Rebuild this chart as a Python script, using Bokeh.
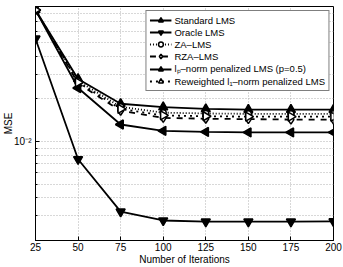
import math
from bokeh.plotting import figure
from bokeh.models import Range1d, FixedTicker, Legend
from bokeh.embed import file_html
from bokeh.resources import INLINE

iterations = [25, 50, 75, 100, 125, 150, 175, 200]
standard_lms = [0.085, 0.0277, 0.0185, 0.0175, 0.0170, 0.0168, 0.0168, 0.0168]
oracle_lms = [0.0533, 0.0075, 0.0032, 0.00277, 0.00272, 0.00272, 0.00272, 0.00273]
za_lms = [0.085, 0.0268, 0.0176, 0.0160, 0.0158, 0.0157, 0.0157, 0.0157]
rza_lms = [0.085, 0.0258, 0.0165, 0.0147, 0.0145, 0.0144, 0.0143, 0.0143]
lp_lms = [0.085, 0.0239, 0.0132, 0.0119, 0.0117, 0.0116, 0.0116, 0.0116]
rw_l1_lms = [0.085, 0.0262, 0.0170, 0.0153, 0.0151, 0.0150, 0.0150, 0.0150]

labels = ["Standard LMS", "Oracle LMS", "ZA–LMS", "RZA–LMS",
          "lₚ–norm penalized LMS (p=0.5)", "Reweighted l₁–norm penalized LMS"]

y_major = [0.01]
y_minor = [0.002, 0.003, 0.004, 0.005, 0.006, 0.007, 0.008, 0.009,
           0.02, 0.03, 0.04, 0.05, 0.06, 0.07, 0.08, 0.09]

FONT = "Liberation Sans"

p = figure(width=343, height=267, y_axis_type="log",
           x_range=Range1d(25, 200), y_range=Range1d(0.002, 0.09),
           output_backend="svg", toolbar_location=None,
           min_border_top=6, min_border_right=10, min_border_left=34,
           min_border_bottom=0)

p.outline_line_color = "black"
p.outline_line_width = 1
p.background_fill_color = "white"
p.border_fill_color = "white"

p.xaxis.ticker = FixedTicker(ticks=iterations)
p.yaxis.ticker = FixedTicker(ticks=y_major, minor_ticks=y_minor)
p.yaxis.major_label_overrides = {0.01: "10⁻²"}

for ax in (p.xaxis[0], p.yaxis[0]):
    ax.axis_line_color = "black"
    ax.major_tick_in = 4
    ax.major_tick_out = 0
    ax.minor_tick_in = 2
    ax.minor_tick_out = 0
    ax.major_tick_line_color = "black"
    ax.minor_tick_line_color = "black"
    ax.major_label_text_font = FONT
    ax.major_label_text_font_size = "10px"
    ax.major_label_text_color = "black"
    ax.axis_label_text_font = FONT
    ax.axis_label_text_font_size = "10px"
    ax.axis_label_text_font_style = "normal"
    ax.axis_label_text_color = "black"

p.xaxis.minor_tick_line_color = None
p.xaxis.major_label_standoff = 2
p.xaxis.axis_label = "Number of Iterations"
p.xaxis.axis_label_standoff = 0
p.yaxis.axis_label = "MSE"
p.yaxis.major_label_standoff = 4
p.yaxis.axis_label_standoff = -3

p.xgrid.ticker = FixedTicker(ticks=iterations)
p.ygrid.ticker = FixedTicker(ticks=y_major, minor_ticks=y_minor)
for g in (p.xgrid[0], p.ygrid[0]):
    g.grid_line_color = "#b0b0b0"
    g.grid_line_dash = "1 2"
    g.grid_line_width = 1
p.ygrid.minor_grid_line_color = "#b0b0b0"
p.ygrid.minor_grid_line_dash = "1 2"

series = [
    (standard_lms, "solid", "triangle", 0, "black"),
    (oracle_lms, "solid", "inverted_triangle", 0, "black"),
    (za_lms, "1 2", "circle", 0, "white"),
    (rza_lms, "dashed", "diamond", 0, "white"),
    (lp_lms, "solid", "triangle", math.pi / 2, "black"),
    (rw_l1_lms, "dotted", "triangle", -math.pi / 2, "white"),
]

items = []
for (vals, dash, marker, ang, fill), lab in zip(series, labels):
    r1 = p.line(iterations, vals, line_color="black", line_width=1.8, line_dash=dash)
    size = 6 if marker == "circle" else 9
    r2 = p.scatter(iterations, vals, marker=marker, angle=ang, size=size,
                   line_color="black", line_width=1.5, fill_color=fill)
    items.append((lab, [r1, r2]))

legend = Legend(items=items, location="top_right")
legend.label_text_font = FONT
legend.label_text_font_size = "9.5px"
legend.label_text_color = "black"
legend.label_height = 12
legend.glyph_height = 12
legend.glyph_width = 22
legend.label_standoff = 3
legend.spacing = 0
legend.padding = 3
legend.margin = 4
legend.border_line_color = "black"
legend.border_line_width = 1
legend.background_fill_alpha = 1
p.add_layout(legend)

open("out.html", "w").write(file_html(p, INLINE))
